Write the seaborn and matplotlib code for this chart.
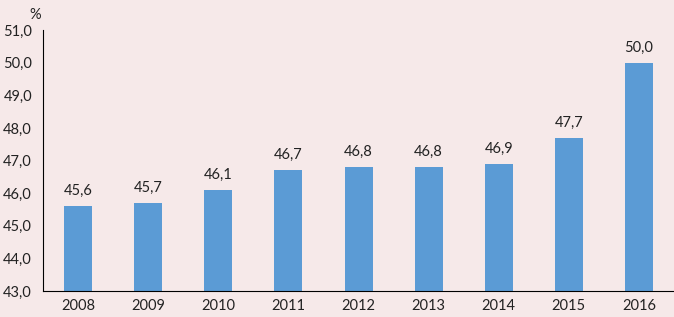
import numpy as np
import pandas as pd
import seaborn as sns
import matplotlib.pyplot as plt
from matplotlib.ticker import FixedLocator

# --- Data ---
years = ["2008", "2009", "2010", "2011", "2012", "2013", "2014", "2015", "2016"]
values = [45.6, 45.7, 46.1, 46.7, 46.8, 46.8, 46.9, 47.7, 50.0]
y_ticks = [43.0, 44.0, 45.0, 46.0, 47.0, 48.0, 49.0, 50.0, 51.0]

df = pd.DataFrame({"Year": years, "Value": values})

bg = "#F6E9E9"
sns.set_style("white")
plt.rcParams["font.family"] = ["Lato", "DejaVu Sans"]

fig = plt.figure(figsize=(6.74, 3.17), dpi=100, facecolor=bg)
ax = fig.add_axes([0.064, 0.082, 0.936, 0.823], facecolor=bg)

sns.barplot(x="Year", y="Value", data=df, color="#5B9BD5", width=0.4,
            saturation=1, linewidth=0, ax=ax)

ax.set_ylim(43, 51)
ax.set_xlim(-0.5, len(years) - 0.5)
ax.set_yticks(y_ticks)
ax.set_yticklabels([f"{v:.1f}".replace(".", ",") for v in y_ticks], fontsize=10.5, color="#222222")
ax.tick_params(axis="y", length=4, width=0.8, color="black", pad=4)
ax.tick_params(axis="x", which="major", length=0, pad=6, labelsize=10.5, labelcolor="#222222")
ax.xaxis.set_minor_locator(FixedLocator(np.arange(-0.5, len(years), 1.0)))
ax.tick_params(axis="x", which="minor", length=4, width=0.8, color="black")
ax.set_xlabel("")
ax.set_ylabel("")

for s in ["top", "right"]:
    ax.spines[s].set_visible(False)
for s in ["left", "bottom"]:
    ax.spines[s].set_color("black")
    ax.spines[s].set_linewidth(0.8)

for i, v in enumerate(values):
    ax.text(i, v + 0.25, f"{v:.1f}".replace(".", ","), ha="center", va="bottom",
            fontsize=10.5, color="#222222")

fig.text(0.052, 0.975, "%", ha="center", va="top", fontsize=10.5, color="#222222")

fig.savefig("out.png", dpi=100, facecolor=bg)
